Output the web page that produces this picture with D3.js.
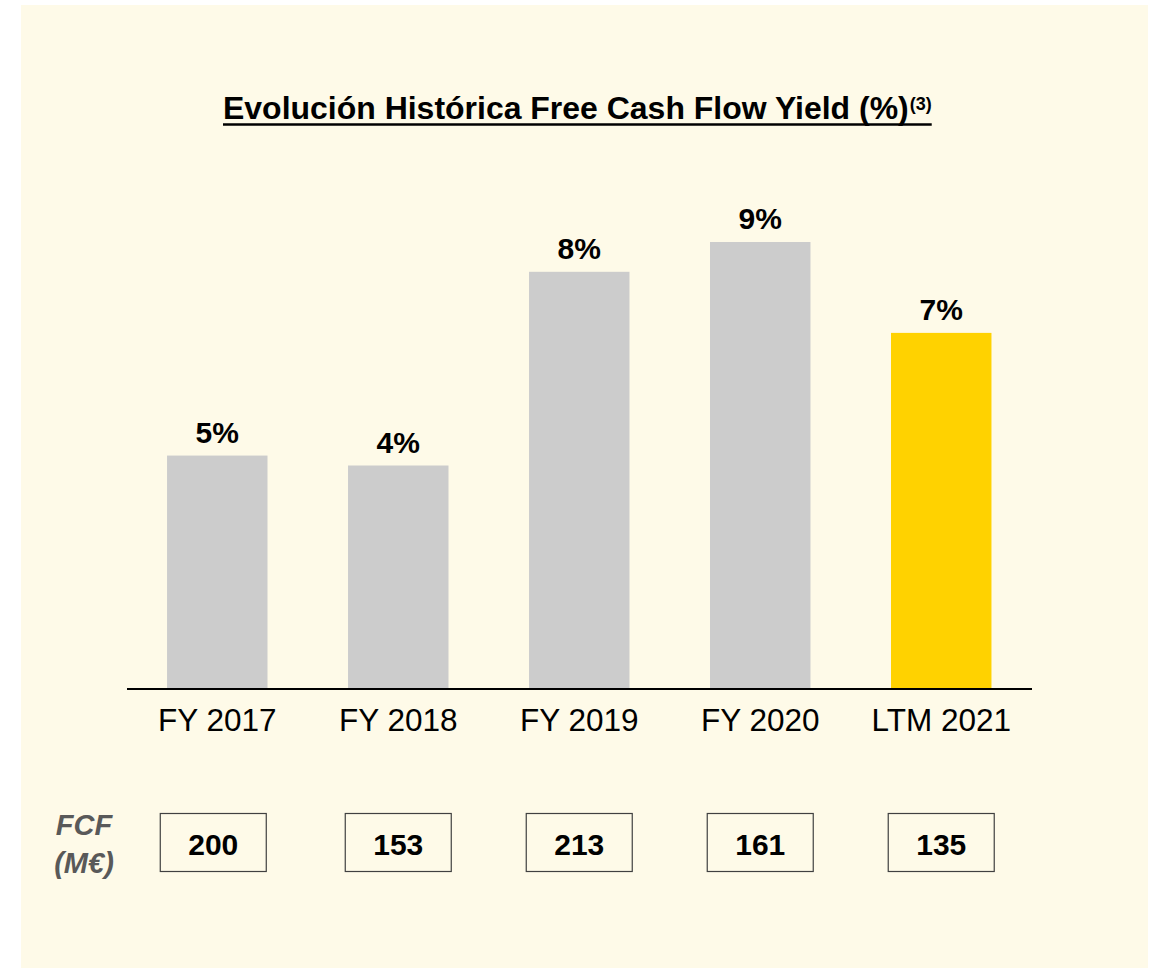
<!DOCTYPE html>
<html>
<head>
<meta charset="utf-8">
<script src="https://cdn.jsdelivr.net/npm/d3@7"></script>
<style>
  body { margin: 0; background: #ffffff; }
  svg { display: block; font-family: "Liberation Sans", Arial, sans-serif; }
</style>
</head>
<body>
<svg id="chart" width="1157" height="969"></svg>
<script>
// data
var categories = ["FY 2017", "FY 2018", "FY 2019", "FY 2020", "LTM 2021"];
var yieldValues = [4.7, 4.5, 8.4, 9.0, 7.17];
var yieldLabels = ["5%", "4%", "8%", "9%", "7%"];
var fcfValues = [200, 153, 213, 161, 135];
var highlight = "LTM 2021";

var svg = d3.select("#chart");

// panel background
svg.append("rect")
  .attr("x", 21).attr("y", 5)
  .attr("width", 1127).attr("height", 963)
  .attr("fill", "#fefae8");

// title, sized so the main part spans roughly 223 -> 909 like the original
var title = svg.append("text")
  .attr("x", 223)
  .attr("y", 119)
  .attr("font-weight", "bold")
  .attr("font-size", 30)
  .attr("fill", "#000");
var titleMain = title.append("tspan").text("Evolución Histórica Free Cash Flow Yield (%)");
var w = titleMain.node().getComputedTextLength();
title.attr("font-size", 30 * 686 / w);
title.append("tspan")
  .attr("font-size", 18)
  .attr("dx", 1)
  .attr("dy", -9)
  .text("(3)");

var tb = title.node().getBBox();
svg.append("line")
  .attr("x1", 223).attr("x2", tb.x + tb.width)
  .attr("y1", 124.5).attr("y2", 124.5)
  .attr("stroke", "#000")
  .attr("stroke-width", 2.6);

// scales
var x = d3.scaleBand()
  .domain(categories)
  .range([86.5, 1072])
  .paddingInner(0.445)
  .paddingOuter(0.445);

var y = d3.scaleLinear()
  .domain([0, 9])
  .range([689, 242]);

// bars
svg.selectAll("rect.bar")
  .data(categories)
  .enter()
  .append("rect")
  .attr("class", "bar")
  .attr("x", d => x(d))
  .attr("y", (d, i) => y(yieldValues[i]))
  .attr("width", x.bandwidth())
  .attr("height", (d, i) => y(0) - y(yieldValues[i]))
  .attr("fill", d => d === highlight ? "#ffd200" : "#cccccc");

// value labels
svg.selectAll("text.val")
  .data(categories)
  .enter()
  .append("text")
  .attr("class", "val")
  .attr("x", d => x(d) + x.bandwidth() / 2)
  .attr("y", (d, i) => y(yieldValues[i]) - 13)
  .attr("text-anchor", "middle")
  .attr("font-weight", "bold")
  .attr("font-size", 30)
  .attr("fill", "#000")
  .text((d, i) => yieldLabels[i]);

// baseline
svg.append("line")
  .attr("x1", 127).attr("x2", 1032)
  .attr("y1", y(0)).attr("y2", y(0))
  .attr("stroke", "#000")
  .attr("stroke-width", 2);

// category axis
var axis = svg.append("g")
  .attr("transform", "translate(0," + y(0) + ")")
  .call(d3.axisBottom(x).tickSize(0).tickPadding(42));
axis.select(".domain").remove();
axis.selectAll("text")
  .attr("font-family", "'Liberation Sans', Arial, sans-serif")
  .attr("font-size", 31.5)
  .attr("fill", "#000")
  .attr("dy", 0);

// FCF label
var fcfLabel = svg.append("text")
  .attr("text-anchor", "middle")
  .attr("font-weight", "bold")
  .attr("font-style", "italic")
  .attr("font-size", 29)
  .attr("fill", "#595959");
fcfLabel.append("tspan").attr("x", 84).attr("y", 835).text("FCF");
fcfLabel.append("tspan").attr("x", 84).attr("y", 873).text("(M€)");

// FCF boxes
var boxes = svg.selectAll("g.fcf")
  .data(categories)
  .enter()
  .append("g")
  .attr("class", "fcf")
  .attr("transform", (d, i) => "translate(" + (x(d) + x.bandwidth() / 2 - (i === 0 ? 4 : 0)) + ",0)");

boxes.append("rect")
  .attr("x", -53)
  .attr("y", 813.5)
  .attr("width", 106)
  .attr("height", 58)
  .attr("fill", "none")
  .attr("stroke", "#404040")
  .attr("stroke-width", 1.2);

boxes.append("text")
  .attr("x", 0)
  .attr("y", 854.5)
  .attr("text-anchor", "middle")
  .attr("font-weight", "bold")
  .attr("font-size", 30)
  .attr("fill", "#000")
  .text((d, i) => fcfValues[i]);
</script>
</body>
</html>
